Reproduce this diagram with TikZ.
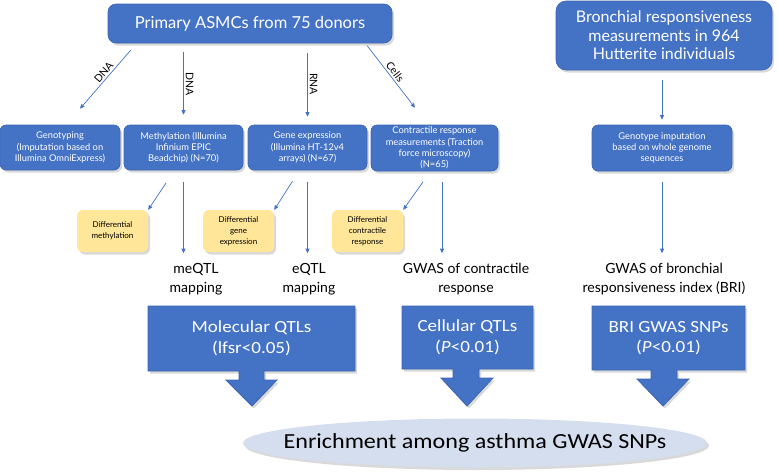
\documentclass[tikz,border=0pt]{standalone}
\usepackage{fontspec}
\setmainfont{Lato}
\newfontfamily\calibri[FakeStretch=1.12]{Carlito}
\usetikzlibrary{calc, shapes.geometric, shadows, arrows.meta}

\definecolor{boxblue}{HTML}{4472C4}
\definecolor{boxedge}{HTML}{3B64B0}
\definecolor{noteyellow}{HTML}{FFE699}
\definecolor{ovalblue}{HTML}{D5DEEF}

\tikzset{
  softshadow/.style={drop shadow={opacity=0.3, shadow xshift=2pt, shadow yshift=-2.5pt}},
  bluebox/.style={draw=boxedge, line width=0.6pt, fill=boxblue, rounded corners=6pt,
    text=white, align=center, inner sep=1pt, softshadow},
  notebox/.style={fill=noteyellow, rounded corners=6pt, align=center, inner sep=1pt,
    minimum width=71pt, minimum height=42pt, font=\fontsize{8}{11}\selectfont, softshadow},
  samplebox/.style={bluebox, minimum height=45pt, font=\fontsize{9.3}{11.3}\selectfont},
  link/.style={draw=boxblue, line width=0.7pt, -{Triangle[length=4.5pt,width=4pt]}},
  edgelabel/.style={font=\fontsize{10.5}{11}\selectfont, sloped, above=1.5pt, inner sep=0.5pt},
  steplabel/.style={font=\fontsize{14}{18.5}\selectfont, align=center, inner sep=0pt},
  qtlshape/.style={draw=boxedge, line width=0.8pt, fill=boxblue, softshadow},
  qtltext/.style={text=white, align=center, font=\calibri\fontsize{17}{20.5}\selectfont},
}

\begin{document}
\begin{tikzpicture}[x=1pt, y=-1pt]
  \useasboundingbox (0,0) rectangle (778,472);

  % Sources
  \node[bluebox, minimum width=284pt, minimum height=39pt, rounded corners=8pt,
    font=\fontsize{16.5}{20}\selectfont] (top) at (250,23.5) {Primary ASMCs from 75 donors};
  \node[bluebox, minimum width=216pt, minimum height=69pt, rounded corners=10pt,
    font=\fontsize{16}{18.5}\selectfont] (bri) at (664,35.5)
    {Bronchial responsiveness\\measurements in 964\\Hutterite individuals};

  % Assays
  \node[samplebox, minimum width=120pt] (geno) at (60,147.5)
    {Genotyping\\(Imputation based on\\Illumina OmniExpress)};
  \node[samplebox, minimum width=119pt] (meth) at (183.5,147.5)
    {Methylation (Illumina\\Infinium EPIC\\Beadchip) (N=70)};
  \node[samplebox, minimum width=119pt] (gexp) at (307.5,147.5)
    {Gene expression\\(Illumina HT-12v4\\arrays) (N=67)};
  \node[samplebox, minimum width=127pt, minimum height=46pt] (contr) at (434.5,148)
    {Contractile response\\measurements (Traction\\force microscopy)\\(N=65)};
  \node[samplebox, minimum width=140pt, minimum height=46pt] (imput) at (662,148)
    {Genotype imputation\\based on whole genome\\sequences};

  % Differential analyses
  \node[notebox] (dmeth) at (112.5,231) {Differential\\methylation};
  \node[notebox] (dgexp) at (238.5,231) {Differential\\gene\\expression};
  \node[notebox] (dcontr) at (367.5,231) {Differential\\contractile\\response};

  % Mapping steps
  \node[steplabel] (meqtl) at (196,279) {meQTL\\mapping};
  \node[steplabel] (eqtl) at (309,279) {eQTL\\mapping};
  \node[steplabel] (gwasc) at (466,279) {GWAS of contractile\\response};
  \node[steplabel] (gwasb) at (664,279) {GWAS of bronchial\\responsiveness index (BRI)};

  % Arrows between steps
  \draw[link, shorten <=9pt] ([xshift=29pt]top.south west) -- node[edgelabel] {DNA}
    ([xshift=20pt,yshift=16pt]geno.north);
  \draw[link, shorten <=9pt, shorten >=10pt] (top.south -| meth.north) -- node[edgelabel] {DNA}
    (meth.north);
  \draw[link, shorten <=10pt, shorten >=8pt] (top.south -| gexp.north) -- node[edgelabel] {RNA}
    (gexp.north);
  \draw[link, shorten <=3pt] ([xshift=-27pt]top.south east) -- node[edgelabel] {Cells}
    ([xshift=-19.5pt,yshift=17pt]contr.north);
  \draw[link, shorten <=10pt, shorten >=5pt] (bri.south -| imput.north) -- (imput.north);

  \draw[link, shorten <=15pt] ([xshift=-9pt]meth.south) -- (dmeth.north east);
  \draw[link, shorten <=13pt] ([xshift=-8pt]gexp.south) -- (dgexp.north east);
  \draw[link, shorten <=13pt] ([xshift=-4pt]contr.south) -- (dcontr.north east);

  \draw[link, shorten <=12pt, shorten >=10pt] (meth.south) -- (meth.south |- meqtl.north);
  \draw[link, shorten <=12pt, shorten >=10pt] (gexp.south) -- (gexp.south |- eqtl.north);
  \draw[link, shorten <=11pt, shorten >=10pt] ([xshift=7.5pt]contr.south) -- ([xshift=-24pt]gwasc.north);
  \draw[link, shorten <=11pt, shorten >=10pt] (imput.south) -- (imput.south |- gwasb.north);

  % QTL block arrows
  \draw[qtlshape] (148,306) -- (355,306) -- (355,371) -- (264,371) -- (264,380) -- (277,380)
    -- (252,406) -- (226,380) -- (239,380) -- (239,371) -- (148,371) -- cycle;
  \draw[qtlshape] (402,306) -- (533,306) -- (533,369) -- (479,369) -- (479,378) -- (493,378)
    -- (467,406) -- (441,378) -- (453,378) -- (453,369) -- (402,369) -- cycle;
  \draw[qtlshape] (592,306) -- (745,306) -- (745,370) -- (677,370) -- (677,379) -- (689,379)
    -- (663,406) -- (637,379) -- (651,379) -- (651,370) -- (592,370) -- cycle;
  \node[qtltext] (mol) at (251.5,338.5) {Molecular QTLs\\(lfsr<0.05)};
  \node[qtltext] (cel) at (467.5,337.5) {Cellular QTLs\\(\textit{P}<0.01)};
  \node[qtltext] (brisnp) at (668.5,338) {BRI GWAS SNPs\\(\textit{P}<0.01)};

  % Enrichment
  \fill[ovalblue, softshadow] (475,443) ellipse [x radius=232, y radius=24.5];
  \node[font=\calibri\fontsize{21.5}{25}\selectfont] (enrich) at (475,443)
    {Enrichment among asthma GWAS SNPs};

\end{tikzpicture}
\end{document}
